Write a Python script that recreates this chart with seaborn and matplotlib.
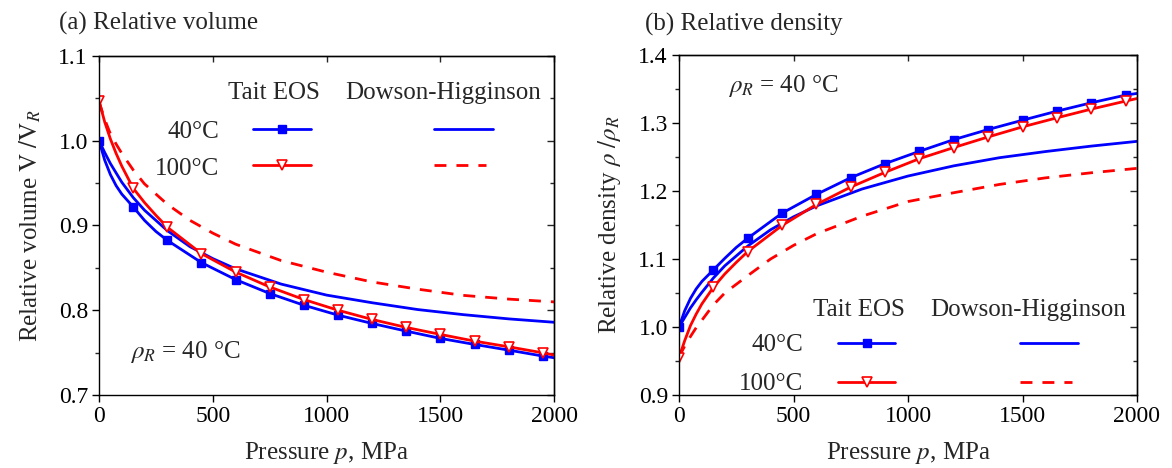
import matplotlib
matplotlib.use("Agg")
import matplotlib.pyplot as plt
import seaborn as sns
import pandas as pd
from matplotlib.lines import Line2D
from matplotlib.ticker import MultipleLocator

# ---------------- data ----------------
P_TAIT = [0, 25, 50, 75, 100, 150, 200, 250, 300, 450, 600, 750, 900,
          1050, 1200, 1350, 1500, 1650, 1800, 1950, 2000]
P_TAIT_MARKS = [0, 150, 300, 450, 600, 750, 900, 1050, 1200, 1350,
                1500, 1650, 1800, 1950]

V_TAIT_40 = [1.000, 0.977, 0.960, 0.947, 0.937, 0.922, 0.906, 0.893, 0.8825,
             0.8563, 0.8363, 0.8199, 0.8061, 0.7944, 0.7846, 0.7756, 0.7670,
             0.7599, 0.7532, 0.7462, 0.7442]
V_TAIT_100 = [1.047, 1.022, 1.002, 0.985, 0.970, 0.944, 0.927, 0.912, 0.898,
              0.8669, 0.8452, 0.8276, 0.8128, 0.8002, 0.7893, 0.7799, 0.7717,
              0.7638, 0.7571, 0.7500, 0.7474]

P_DH = [0, 25, 50, 75, 100, 150, 200, 300, 400, 500, 600, 800, 1000, 1200,
        1400, 1600, 1800, 2000]
V_DH_40 = [1.000, 0.986, 0.973, 0.962, 0.951, 0.933, 0.918, 0.894, 0.875,
           0.861, 0.849, 0.831, 0.818, 0.809, 0.801, 0.795, 0.790, 0.786]
V_DH_100 = [1.046, 1.025, 1.008, 0.996, 0.985, 0.9655, 0.949, 0.925, 0.906,
            0.891, 0.878, 0.8587, 0.845, 0.8335, 0.825, 0.8177, 0.8133, 0.810]

R_TAIT_40 = [1.000, 1.024, 1.042, 1.056, 1.067, 1.084, 1.101, 1.117, 1.1305,
             1.1674, 1.195, 1.2196, 1.2403, 1.2584, 1.2756, 1.2904, 1.3041,
             1.3174, 1.3297, 1.341, 1.3435]
R_TAIT_100 = [0.955, 0.980, 1.002, 1.019, 1.034, 1.0583, 1.078, 1.095, 1.1109,
              1.1493, 1.1802, 1.2058, 1.2275, 1.2476, 1.2639, 1.2795, 1.2943,
              1.3076, 1.3204, 1.3322, 1.336]
R_DH_40 = [1.000, 1.014, 1.028, 1.040, 1.051, 1.072, 1.090, 1.119, 1.143,
           1.162, 1.178, 1.203, 1.222, 1.237, 1.249, 1.258, 1.266, 1.273]
R_DH_100 = [0.956, 0.972, 0.986, 0.999, 1.010, 1.0325, 1.050, 1.0755, 1.100,
            1.120, 1.137, 1.163, 1.1845, 1.1975, 1.2097, 1.2193, 1.2268, 1.2333]

TITLES = ["(a) Relative volume", "(b) Relative density"]
XLABEL = "Pressure $p$, MPa"
YLABELS = [r"Relative volume $\mathrm{V}\ /\mathrm{V}_R$",
           r"Relative density $\rho\ /\rho_R$"]
REF_TEXT = r"$\rho_R$ = 40 °C"
HEAD_TAIT = "Tait EOS"
HEAD_DH = "Dowson-Higginson"
ROW_LABELS = ["40°C", "100°C"]

# ---------------- style ----------------
sns.set_theme(style="ticks")
plt.rcParams["font.family"] = ["Liberation Serif", "DejaVu Serif"]
plt.rcParams["mathtext.fontset"] = "stix"
plt.rcParams["axes.linewidth"] = 1.0

BLUE = "#0000ff"
RED = "#ff0000"
LW = 2.0
DASH = (4.3, 3.6)
FS_TICK = 17
FS_TEXT = 18

mark_idx = [P_TAIT.index(p) for p in P_TAIT_MARKS]

fig = plt.figure(figsize=(11.72, 4.68), dpi=100)
W, H = 1172, 468
axL = fig.add_axes([99 / W, (H - 395.3) / H, 455.3 / W, 339.6 / H])
axR = fig.add_axes([679 / W, (H - 395.0) / H, 458 / W, 340.0 / H])

tait40_kw = dict(color=BLUE, lw=LW, marker="s", ms=6.3, mfc=BLUE, mec=BLUE, mew=1.0)
tait100_kw = dict(color=RED, lw=LW, marker="v", ms=7.8, mfc="white", mec=RED, mew=1.2)
dh40_kw = dict(color=BLUE, lw=LW)
dh100_kw = dict(color=RED, lw=LW, dashes=DASH)


def draw(ax, dh40, dh100, t40, t100):
    sns.lineplot(x=P_DH, y=dh40, ax=ax, **dh40_kw)
    sns.lineplot(x=P_DH, y=dh100, ax=ax, **dh100_kw)
    sns.lineplot(x=P_TAIT, y=t40, ax=ax, markevery=mark_idx, **tait40_kw)
    sns.lineplot(x=P_TAIT, y=t100, ax=ax, markevery=mark_idx, **tait100_kw)


def style(ax, ylim, ymaj):
    ax.set_xlim(0, 2000)
    ax.set_ylim(*ylim)
    ax.xaxis.set_major_locator(MultipleLocator(500))
    ax.yaxis.set_major_locator(MultipleLocator(ymaj))
    ax.yaxis.set_minor_locator(MultipleLocator(ymaj / 2))
    ax.tick_params(axis="both", which="major", direction="out", length=5,
                   width=1, labelsize=FS_TICK, pad=3, colors="black")
    ax.tick_params(axis="y", which="minor", direction="out", length=3, width=1)
    for s in ax.spines.values():
        s.set_linewidth(1.0)
        s.set_color("black")
    top = ax.secondary_xaxis("top")
    top.xaxis.set_major_locator(MultipleLocator(500))
    top.tick_params(axis="x", which="major", direction="in", length=4,
                    width=1, labeltop=False, labelbottom=False)
    right = ax.secondary_yaxis("right")
    right.yaxis.set_major_locator(MultipleLocator(ymaj))
    right.yaxis.set_minor_locator(MultipleLocator(ymaj / 2))
    right.tick_params(axis="y", which="major", direction="in", length=5,
                      width=1, labelright=False, labelleft=False)
    right.tick_params(axis="y", which="minor", direction="in", length=3,
                      width=1)
    ax.set_xlabel(XLABEL, fontsize=FS_TEXT, labelpad=9)


def legend(ax, xh_t, xh_d, yh, xr, yr, tx0, tx1, dx0, dx1, dxd1):
    ax.text(xh_t, yh, HEAD_TAIT, transform=ax.transAxes, ha="center",
            va="baseline", fontsize=FS_TEXT)
    ax.text(xh_d, yh, HEAD_DH, transform=ax.transAxes, ha="center",
            va="baseline", fontsize=FS_TEXT)
    for lab, (ytxt, yline) in zip(ROW_LABELS, yr):
        ax.text(xr, ytxt, lab, transform=ax.transAxes, ha="right",
                va="baseline", fontsize=FS_TEXT)
    (y40t, y40), (y100t, y100) = yr
    xm = (tx0 + tx1) / 2
    ax.add_line(Line2D([tx0, xm, tx1], [y40] * 3, transform=ax.transAxes,
                       markevery=[1], **tait40_kw))
    ax.add_line(Line2D([tx0, xm, tx1], [y100] * 3, transform=ax.transAxes,
                       markevery=[1], **tait100_kw))
    ax.add_line(Line2D([dx0, dx1], [y40] * 2, transform=ax.transAxes, **dh40_kw))
    ax.add_line(Line2D([dx0, dxd1], [y100] * 2, transform=ax.transAxes, **dh100_kw))


# ---------------- left: relative volume ----------------
draw(axL, V_DH_40, V_DH_100, V_TAIT_40, V_TAIT_100)
style(axL, (0.7, 1.1), 0.1)
axL.set_ylabel(YLABELS[0], fontsize=FS_TEXT, labelpad=11)
axL.text(0.068, 0.110, REF_TEXT, transform=axL.transAxes, ha="left",
         va="baseline", fontsize=FS_TEXT)
legend(axL, 0.3833, 0.7566, 0.8725, 0.2636,
       [(0.7582, 0.7836), (0.6493, 0.677)],
       0.3376, 0.4652, 0.7358, 0.8654, 0.8490)

# ---------------- right: relative density ----------------
draw(axR, R_DH_40, R_DH_100, R_TAIT_40, R_TAIT_100)
style(axR, (0.9, 1.4), 0.1)
axR.set_ylabel(YLABELS[1], fontsize=FS_TEXT, labelpad=11)
axR.text(0.107, 0.892, REF_TEXT, transform=axR.transAxes, ha="left",
         va="baseline", fontsize=FS_TEXT)
legend(axR, 0.3919, 0.7631, 0.2332, 0.2718,
       [(0.1285, 0.1529), (0.0144, 0.0388)],
       0.3472, 0.4716, 0.7441, 0.8712, 0.8590)

fig.text(59 / W, 1 - 29.8 / H, TITLES[0], ha="left", va="baseline",
         fontsize=FS_TEXT)
fig.text(645 / W, 1 - 30.2 / H, TITLES[1], ha="left", va="baseline",
         fontsize=FS_TEXT)

fig.savefig("out.png", dpi=100)
